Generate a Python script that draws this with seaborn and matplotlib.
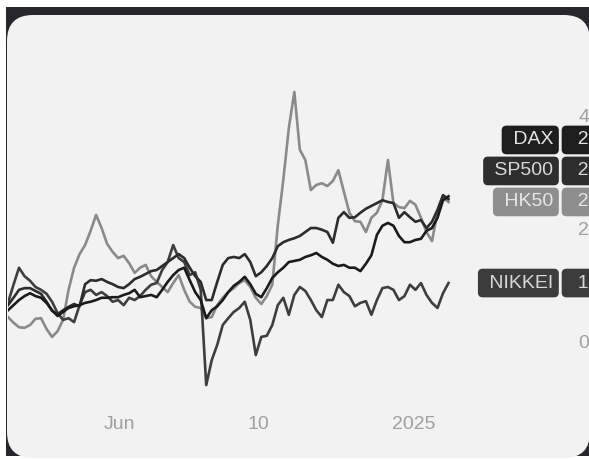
import numpy as np
import pandas as pd
import matplotlib
matplotlib.use("Agg")
import matplotlib.pyplot as plt
from matplotlib.patches import Rectangle, FancyBboxPatch
from matplotlib.transforms import blended_transform_factory
import seaborn as sns

# ---------------- data (percent change) ----------------
dates = pd.date_range("2024-03-12", periods=81, freq="4D")

dax = [5.6, 6.5, 7.4, 8.1, 8.6, 8.1, 7.8, 6.9, 5.6, 4.6,
       5.3, 6.0, 6.3, 6.5, 6.9, 7.1, 7.4, 7.8, 7.8, 7.9,
       7.9, 8.3, 8.6, 9.2, 7.9, 8.1, 8.3, 7.9, 9.2, 10.6,
       11.8, 12.7, 13.1, 10.9, 8.8, 7.4, 4.2, 5.6, 6.3, 7.4,
       8.8, 9.9, 10.6, 11.5, 10.2, 8.5, 7.9, 9.5, 11.3, 12.3,
       13.1, 14.1, 14.3, 14.5, 15.0, 15.3, 15.7, 15.0, 14.5, 13.8,
       13.4, 13.6, 13.1, 13.1, 12.5, 13.8, 15.3, 18.9, 20.5, 21.0,
       20.5, 18.7, 17.6, 17.6, 18.0, 18.2, 19.6, 20.1, 21.9, 25.0, 25.7]

sp500 = [6.5, 7.8, 9.2, 9.5, 9.5, 9.0, 8.5, 7.1, 5.5, 4.9,
         5.6, 6.2, 6.7, 6.3, 10.2, 10.9, 10.8, 11.1, 10.6, 10.2,
         9.7, 9.5, 10.2, 11.1, 11.5, 12.0, 12.5, 12.7, 13.4, 14.1,
         14.8, 15.5, 14.8, 13.1, 11.6, 10.6, 7.4, 7.4, 10.6, 13.6,
         14.8, 15.0, 14.8, 15.5, 14.1, 11.6, 12.3, 13.4, 14.8, 16.9,
         17.6, 18.0, 18.3, 18.7, 19.4, 20.1, 20.1, 19.8, 19.4, 17.5,
         21.9, 22.9, 21.9, 22.0, 22.8, 23.5, 24.0, 24.5, 25.0, 24.7,
         24.5, 21.9, 22.9, 22.0, 21.2, 21.5, 20.1, 21.2, 23.3, 25.9, 25.2]

hk50 = [4.4, 3.4, 2.6, 2.5, 3.0, 4.1, 4.2, 2.3, 0.9, 1.9,
        3.9, 9.2, 13.1, 15.5, 17.1, 19.6, 22.4, 20.1, 17.3, 15.9,
        14.8, 15.2, 13.9, 12.2, 13.1, 13.6, 11.6, 10.6, 9.7, 8.8,
        10.4, 11.8, 9.2, 7.1, 6.2, 6.0, 4.2, 4.4, 6.5, 7.8,
        8.8, 9.5, 10.4, 10.9, 9.7, 7.8, 6.7, 8.1, 10.1, 20.6,
        28.6, 37.7, 44.1, 33.9, 32.1, 26.8, 27.7, 28.0, 27.5, 28.4,
        30.3, 26.5, 22.8, 21.3, 21.2, 19.4, 21.9, 22.8, 25.0, 32.1,
        24.5, 23.8, 23.6, 24.9, 24.2, 21.9, 19.4, 17.8, 22.9, 25.4, 24.7]

nikkei = [6.9, 10.1, 13.1, 11.6, 10.8, 9.7, 9.2, 8.5, 7.1, 5.1,
          3.9, 4.2, 3.5, 6.5, 8.8, 9.2, 8.3, 8.8, 8.1, 7.1,
          7.4, 6.5, 7.8, 7.4, 8.1, 9.2, 10.1, 10.4, 12.7, 14.1,
          17.1, 14.8, 14.1, 11.8, 12.3, 9.2, -7.6, -3.2, -0.5, 3.0,
          4.2, 5.3, 6.0, 7.1, 3.9, -2.3, 0.9, 1.1, 3.0, 6.5,
          7.8, 4.8, 8.3, 9.7, 9.0, 7.4, 5.6, 4.4, 7.4, 7.4,
          10.1, 8.8, 8.1, 6.3, 6.9, 7.2, 4.8, 7.4, 9.5, 9.7,
          9.2, 7.4, 8.1, 10.1, 9.2, 10.4, 8.3, 6.9, 6.0, 8.6, 10.4]

names = ["HK50", "NIKKEI", "SP500", "DAX"]
series = {"DAX": dax, "SP500": sp500, "HK50": hk50, "NIKKEI": nikkei}
line_colors = {"DAX": "#1b1b1b", "SP500": "#2c2c2c", "HK50": "#8a8a8a", "NIKKEI": "#3e3e3e"}
box_colors = {"DAX": "#1e1e1e", "SP500": "#2e2e2e", "HK50": "#8e8e8e", "NIKKEI": "#3c3c3c"}
box_text = {"DAX": "#e4e4e4", "SP500": "#d8d8d8", "HK50": "#e6e6e6", "NIKKEI": "#d8d8d8"}

xtick_dates = ["2024-06-01", "2024-09-10", "2025-01-01"]
xtick_labels = ["Jun", "10", "2025"]
ytick_values = [0, 20, 40]
ytick_labels = ["0.00%", "20.00%", "40.00%"]

df = pd.concat([pd.DataFrame({"date": dates, "value": series[n], "index": n}) for n in names],
               ignore_index=True)

# ---------------- figure ----------------
W, H = 589, 459
fig = plt.figure(figsize=(W / 100, H / 100), dpi=100, facecolor="white")
plt.rcParams["font.family"] = ["Liberation Sans", "DejaVu Sans"]

# dark frame + light rounded card (pixel coordinates)
fig.add_artist(Rectangle((5.5, H - 456), 600, 449, transform=None,
                         facecolor="#27272b", edgecolor="none", zorder=-3))
fig.add_artist(FancyBboxPatch((7, H - 458), 583, 443, transform=None,
                              boxstyle="round,pad=0,rounding_size=26",
                              facecolor="#f2f2f2", edgecolor="none", zorder=-2))

ax = fig.add_axes([8 / W, 1 - 408 / H, (560 - 8) / W, (408 - 15) / H])
ax.set_facecolor("none")

sns.lineplot(data=df, x="date", y="value", hue="index", hue_order=names,
             palette=line_colors, linewidth=1.9, legend=False, ax=ax,
             estimator=None, sort=False)

ax.set_xlim(pd.Timestamp("2024-03-12"), pd.Timestamp("2025-04-17"))
ax.set_ylim(-11.64, 57.67)
for s in ax.spines.values():
    s.set_visible(False)
ax.set_xlabel("")
ax.set_ylabel("")
ax.grid(False)

ax.set_xticks(pd.to_datetime(xtick_dates))
ax.set_xticklabels(xtick_labels)
ax.yaxis.tick_right()
ax.set_yticks(ytick_values)
ax.set_yticklabels(ytick_labels)
ax.tick_params(axis="x", length=0, pad=6, labelsize=14, labelcolor="#a0a0a0")
ax.tick_params(axis="y", length=0, pad=13, labelsize=14, labelcolor="#a0a0a0")

# ---------------- price-scale labels (stacked to avoid overlap) ----------------
fig.canvas.draw()
px_per_unit = ax.bbox.height / (ax.get_ylim()[1] - ax.get_ylim()[0])
gap = 31.0 / px_per_unit
last = sorted(((series[n][-1], n) for n in series), key=lambda t: t[0])
positions = {}
prev = None
for val, n in last:
    pos = val if prev is None else max(val, prev + gap)
    positions[n] = pos
    prev = pos

trans = blended_transform_factory(ax.transAxes, ax.transData)
ax_w = ax.bbox.width
for n, pos in positions.items():
    ax.text((553 - 8) / ax_w, pos, " " + n, transform=trans, ha="right", va="center",
            fontsize=14, color=box_text[n], clip_on=False, zorder=5,
            bbox=dict(boxstyle="round,pad=0.3,rounding_size=0.25",
                      facecolor=box_colors[n], edgecolor="none"))
    ax.text((567.5 - 8) / ax_w, pos, "  " + f"{series[n][-1]:.2f}%", transform=trans,
            ha="left", va="center", fontsize=14, color=box_text[n], clip_on=False, zorder=5,
            bbox=dict(boxstyle="round,pad=0.3,rounding_size=0.25",
                      facecolor=box_colors[n], edgecolor="none"))

fig.savefig("out.png", dpi=100, facecolor="white")
